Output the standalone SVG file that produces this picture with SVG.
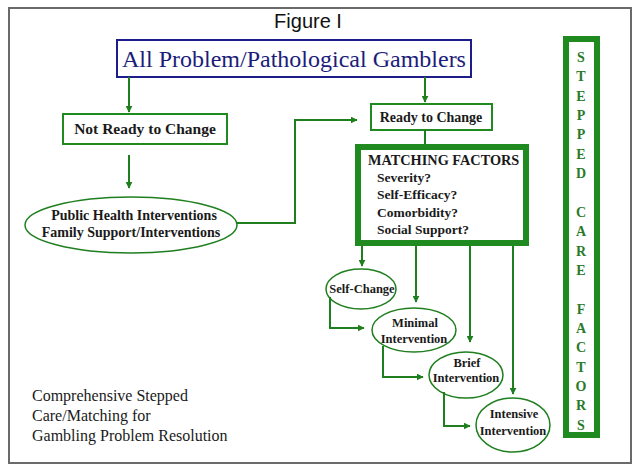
<svg xmlns="http://www.w3.org/2000/svg" width="644" height="475" viewBox="0 0 644 475">
<defs>
<marker id="ah" viewBox="0 0 10 10" refX="9" refY="5" markerWidth="7" markerHeight="7" markerUnits="userSpaceOnUse" orient="auto">
<path d="M0,0 L10,5 L0,10 z" fill="#1f7f1f"/>
</marker>
<style>
.frame{fill:#fff;stroke:#6a6a6a;stroke-width:2}
.gbox{fill:#fff;stroke:#1f8a1f;stroke-width:2}
.thick{fill:#fff;stroke:#1f8a1f;stroke-width:6}
.ell{fill:#fff;stroke:#1f7f1f;stroke-width:1.5}
.conn path{fill:none;stroke:#1f7f1f;stroke-width:2;}
.arr{marker-end:url(#ah)}
.serif{font-family:"Liberation Serif","DejaVu Serif",serif;fill:#1a1a1a}
.b{font-weight:bold}
.vert{font-family:"Liberation Serif","DejaVu Serif",serif;font-weight:bold;font-size:14px;fill:#2a7a2a;text-anchor:middle}
</style>
</defs>
<rect class="frame" x="9" y="8" width="622" height="455"/>
<text x="308" y="28" font-family="Liberation Sans,Arial,sans-serif" font-size="20" text-anchor="middle" fill="#111">Figure I</text>

<g id="all-gamblers">
<rect x="117" y="40" width="354" height="37" fill="#fff" stroke="#1c1c8a" stroke-width="2"/>
<text class="serif" x="294" y="67" font-size="24" text-anchor="middle" style="fill:#1c1c7a">All Problem/Pathological Gamblers</text>
</g>

<g id="not-ready">
<rect class="gbox" x="63" y="114" width="164" height="30"/>
<text class="serif b" x="145" y="134" font-size="15.5" text-anchor="middle">Not Ready  to Change</text>
</g>

<g id="ready">
<rect class="gbox" x="371" y="104" width="121" height="26"/>
<text class="serif b" x="431" y="122" font-size="14" text-anchor="middle">Ready to Change</text>
</g>

<g id="public-health">
<ellipse class="ell" cx="131" cy="225" rx="106" ry="28"/>
<text class="serif b" x="134" y="220" font-size="14" text-anchor="middle">Public Health Interventions</text>
<text class="serif b" x="131" y="237" font-size="14" text-anchor="middle">Family Support/Interventions</text>
</g>

<g id="matching-factors">
<rect class="thick" x="358" y="147" width="168" height="96"/>
<text class="serif b" x="368" y="165" font-size="14.3">MATCHING FACTORS</text>
<text class="serif b" x="377" y="182" font-size="13.5">Severity?</text>
<text class="serif b" x="377" y="199" font-size="13.5">Self-Efficacy?</text>
<text class="serif b" x="377" y="217" font-size="13.5">Comorbidity?</text>
<text class="serif b" x="377" y="234" font-size="13.5">Social Support?</text>
</g>

<g id="self-change">
<ellipse class="ell" cx="361" cy="289" rx="35" ry="20"/>
<text class="serif b" x="362" y="293" font-size="12.5" text-anchor="middle">Self-Change</text>
</g>

<g id="minimal">
<ellipse class="ell" cx="414" cy="330" rx="42" ry="22"/>
<text class="serif b" x="415" y="327" font-size="12.5" text-anchor="middle">Minimal</text>
<text class="serif b" x="414" y="343" font-size="12.5" text-anchor="middle">Intervention</text>
</g>

<g id="brief">
<ellipse class="ell" cx="466" cy="375" rx="37" ry="23"/>
<text class="serif b" x="467" y="367" font-size="12.5" text-anchor="middle">Brief</text>
<text class="serif b" x="466" y="382" font-size="12.5" text-anchor="middle">Intervention</text>
</g>

<g id="intensive">
<ellipse class="ell" cx="513" cy="425" rx="37" ry="27"/>
<text class="serif b" x="514" y="418" font-size="12.5" text-anchor="middle">Intensive</text>
<text class="serif b" x="513" y="435" font-size="12.5" text-anchor="middle">Intervention</text>
</g>

<g id="stepped-care-factors">
<rect class="thick" x="566" y="39" width="31" height="396"/>
<text class="vert" x="581" y="62">S</text>
<text class="vert" x="581" y="81">T</text>
<text class="vert" x="581" y="101">E</text>
<text class="vert" x="581" y="120">P</text>
<text class="vert" x="581" y="139">P</text>
<text class="vert" x="581" y="159">E</text>
<text class="vert" x="581" y="178">D</text>
<text class="vert" x="581" y="217">C</text>
<text class="vert" x="581" y="236">A</text>
<text class="vert" x="581" y="256">R</text>
<text class="vert" x="581" y="275">E</text>
<text class="vert" x="581" y="314">F</text>
<text class="vert" x="581" y="333">A</text>
<text class="vert" x="581" y="352">C</text>
<text class="vert" x="581" y="372">T</text>
<text class="vert" x="581" y="391">O</text>
<text class="vert" x="581" y="410">R</text>
<text class="vert" x="581" y="430">S</text>
</g>

<g id="caption">
<text class="serif" x="32" y="401" font-size="16">Comprehensive Stepped</text>
<text class="serif" x="32" y="421" font-size="16">Care/Matching  for</text>
<text class="serif" x="32" y="441" font-size="16">Gambling Problem Resolution</text>
</g>

<g id="connectors" class="conn">
<path class="arr" d="M129,77 V112"/>
<path class="arr" d="M425,77 V102"/>
<path class="arr" d="M129,155 V188"/>
<path class="arr" d="M237,223 H295 V120 H357"/>
<path d="M425,130 V144"/>
<path class="arr" d="M362,246 V266"/>
<path class="arr" d="M416,246 V302"/>
<path class="arr" d="M470,246 V342"/>
<path class="arr" d="M513,246 V394"/>
<path class="arr" d="M330,297 V328 H364"/>
<path class="arr" d="M383,346 V377 H423"/>
<path class="arr" d="M444,392 V426 H470"/>
</g>
</svg>
